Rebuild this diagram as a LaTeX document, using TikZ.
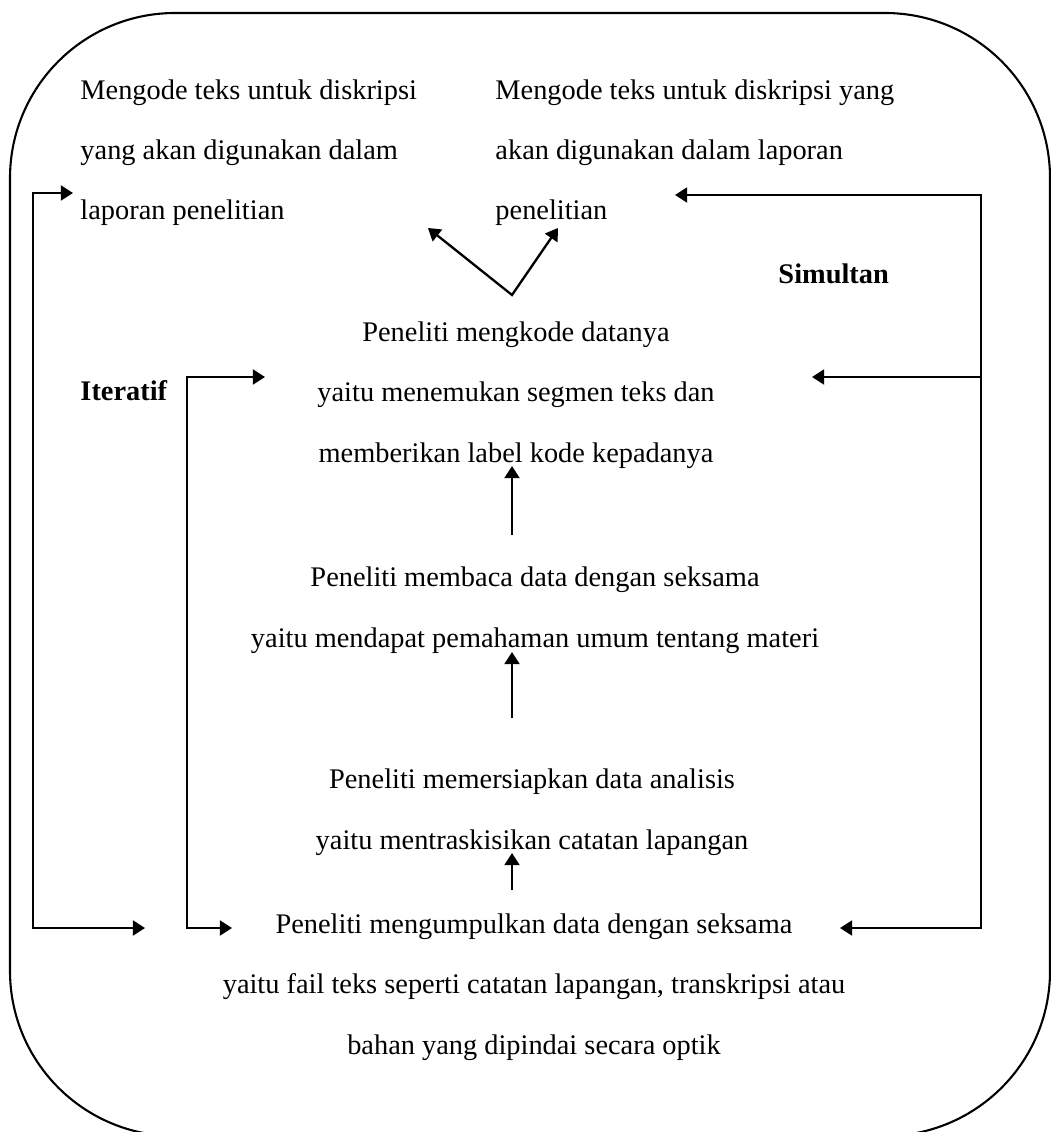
\documentclass[tikz,border=0pt]{standalone}
\usepackage{fontspec}
\setmainfont{Liberation Serif}
\usetikzlibrary{arrows.meta, positioning}

\tikzset{
  txt/.style={inner sep=0pt, font=\fontsize{12.2}{26}\selectfont},
  flow/.style={line width=1pt, -{Triangle[length=5.2pt, width=6.4pt]}},
  twoway/.style={line width=1pt, {Triangle[length=5.2pt, width=6.4pt]}-{Triangle[length=5.2pt, width=6.4pt]}},
}

\begin{document}
\begin{tikzpicture}[x=0.43pt, y=-0.43pt]

\useasboundingbox (0,0) rectangle (1051,1132);
\begin{scope}
    \clip (0,0) rectangle (1051,1132);
    \draw [line width=0.9pt, rounded corners=71pt] (10,13) rectangle (1050,1136);
\end{scope}

% blocks sit on the baseline of their last line
\node [txt, align=left, anchor=base west] (descL) at (80,220) {Mengode teks untuk diskripsi\\yang akan digunakan dalam\\laporan penelitian};
\node [txt, align=left, anchor=base west] (descR) at (495,220) {Mengode teks untuk diskripsi yang\\akan digunakan dalam laporan\\penelitian};

\node [txt, align=center, anchor=base] (code) at (516,462) {Peneliti mengkode datanya\\yaitu menemukan segmen teks dan\\memberikan label kode kepadanya};
\node [txt, align=center, anchor=base] (read) at (535,647) {Peneliti membaca data dengan seksama\\yaitu mendapat pemahaman umum tentang materi};
\node [txt, align=center, anchor=base] (prep) at (532,849) {Peneliti memersiapkan data analisis\\yaitu mentraskisikan catatan lapangan};
\node [txt, align=center, anchor=base] (collect) at (534,1054) {Peneliti mengumpulkan data dengan seksama\\yaitu fail teks seperti catatan lapangan, transkripsi atau\\bahan yang dipindai secara optik};

\node [txt, font=\fontsize{12.2}{26}\selectfont\bfseries, anchor=base west] (iter) at (80,400) {Iteratif};
\node [txt, font=\fontsize{12.2}{26}\selectfont\bfseries, anchor=base west] (simul) at (778,284) {Simultan};

% ends of the connectors
\coordinate (apex) at (512,295);
\coordinate (toL) at (428,228);
\coordinate (toR) at (558,228);

\coordinate (lT) at (33,193);
\coordinate (lB) at (33,928);
\coordinate (lTtip) at (73,193);
\coordinate (lBtip) at (145,928);

\coordinate (iT) at (187,377);
\coordinate (iB) at (187,928);
\coordinate (iTtip) at (265,377);
\coordinate (iBtip) at (232,928);

\coordinate (sT) at (981,195);
\coordinate (sM) at (981,377);
\coordinate (sB) at (981,928);
\coordinate (sTtip) at (675,195);
\coordinate (sMtip) at (812,377);
\coordinate (sBtip) at (840,928);

\draw [twoway] (toL) -- (apex) -- (toR);

\draw [twoway] (lTtip) -- (lT) -- (lB) -- (lBtip);
\draw [twoway] (iTtip) -- (iT) -- (iB) -- (iBtip);
\draw [twoway] (sTtip) -- (sT) -- (sB) -- (sBtip);
\draw [flow] (sM) -- (sMtip);

\draw [flow] (512,535) -- (512,466);
\draw [flow] (512,718) -- (512,652);
\draw [flow] (512,890) -- (512,853);

\end{tikzpicture}
\end{document}
